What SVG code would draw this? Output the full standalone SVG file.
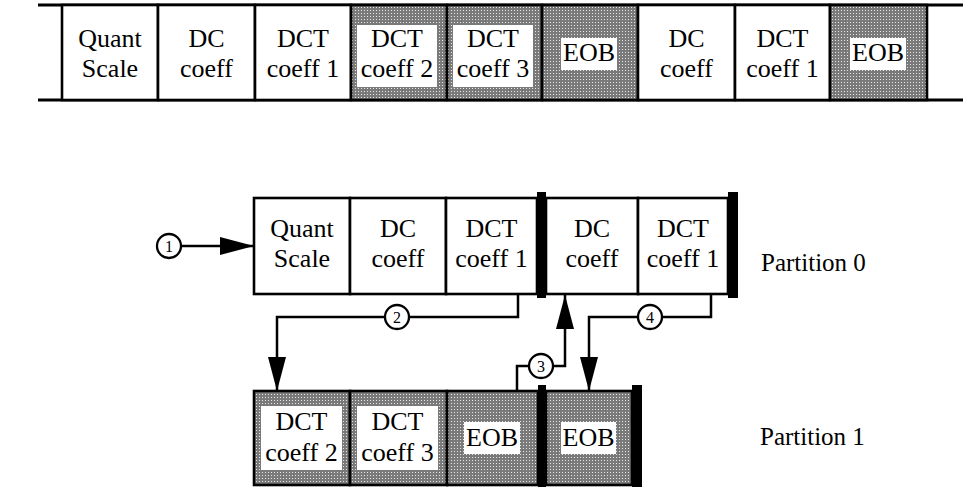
<svg xmlns="http://www.w3.org/2000/svg" width="963" height="488" viewBox="0 0 963 488">
<style>
.cell{fill:#fff;stroke:#000;stroke-width:2.6}
.sh{fill:url(#dots);stroke:#000;stroke-width:2.6}
.t{font-family:"Liberation Serif","Times New Roman",serif;font-size:26px;fill:#000;text-anchor:middle}
.p{font-family:"Liberation Serif","Times New Roman",serif;font-size:25px;fill:#000}
.wb{fill:#fff}
.bar{fill:#000}
.c{fill:none;stroke:#000;stroke-width:2.5}
.lab{fill:#fff;stroke:#000;stroke-width:2.3}
.n{font-family:"Liberation Serif","Times New Roman",serif;font-size:16px;fill:#000;text-anchor:middle}
</style>
<defs>
<pattern id="dots" width="3" height="3" patternUnits="userSpaceOnUse">
<rect width="3" height="3" fill="#7a7a7a"/>
<rect x="1" y="1" width="1" height="1" fill="#e6e6e6"/>
</pattern>
<marker id="ah" markerUnits="userSpaceOnUse" markerWidth="34" markerHeight="18" refX="34" refY="9" orient="auto">
<path d="M0,0 L34,9 L0,18 z" fill="#000"/>
</marker>
</defs>

<g id="stream">
<line x1="38" y1="5" x2="963" y2="5" stroke="#000" stroke-width="3"/>
<line x1="38" y1="100" x2="963" y2="100" stroke="#000" stroke-width="3"/>
</g>
<g id="s-quant"><rect class="cell" x="62" y="5" width="96" height="95"/><text class="t" x="110" y="47">Quant</text><text class="t" x="110" y="77">Scale</text></g>
<g id="s-dc1"><rect class="cell" x="158" y="5" width="97" height="95"/><text class="t" x="206.5" y="47">DC</text><text class="t" x="206.5" y="77">coeff</text></g>
<g id="s-dct1"><rect class="cell" x="255" y="5" width="96" height="95"/><text class="t" x="303" y="47">DCT</text><text class="t" x="303" y="77">coeff 1</text></g>
<g id="s-dct2"><rect class="sh" x="351" y="5" width="96" height="95"/><rect class="wb" x="357" y="25" width="80" height="62"/><text class="t" x="397" y="47">DCT</text><text class="t" x="397" y="77">coeff 2</text></g>
<g id="s-dct3"><rect class="sh" x="447" y="5" width="95" height="95"/><rect class="wb" x="453" y="25" width="80" height="62"/><text class="t" x="493" y="47">DCT</text><text class="t" x="493" y="77">coeff 3</text></g>
<g id="s-eob1"><rect class="sh" x="542" y="5" width="96" height="95"/><rect class="wb" x="561" y="38" width="56" height="32"/><text class="t" x="589" y="61">EOB</text></g>
<g id="s-dc2"><rect class="cell" x="638" y="5" width="97" height="95"/><text class="t" x="686.5" y="47">DC</text><text class="t" x="686.5" y="77">coeff</text></g>
<g id="s-dct1b"><rect class="cell" x="735" y="5" width="95" height="95"/><text class="t" x="782.5" y="47">DCT</text><text class="t" x="782.5" y="77">coeff 1</text></g>
<g id="s-eob2"><rect class="sh" x="830" y="5" width="97" height="95"/><rect class="wb" x="850" y="38" width="56" height="32"/><text class="t" x="878" y="61">EOB</text></g>

<g id="p0-quant"><rect class="cell" x="254" y="198" width="96" height="96"/><text class="t" x="302" y="237">Quant</text><text class="t" x="302" y="267">Scale</text></g>
<g id="p0-dc1"><rect class="cell" x="350" y="198" width="96" height="96"/><text class="t" x="398" y="237">DC</text><text class="t" x="398" y="267">coeff</text></g>
<g id="p0-dct1"><rect class="cell" x="446" y="198" width="91" height="96"/><text class="t" x="491.5" y="237">DCT</text><text class="t" x="491.5" y="267">coeff 1</text></g>
<g id="p0-dc2"><rect class="cell" x="546" y="198" width="92" height="96"/><text class="t" x="592" y="237">DC</text><text class="t" x="592" y="267">coeff</text></g>
<g id="p0-dct1b"><rect class="cell" x="638" y="198" width="90" height="96"/><text class="t" x="683" y="237">DCT</text><text class="t" x="683" y="267">coeff 1</text></g>
<g id="p0-bars"><rect class="bar" x="537" y="192" width="9" height="106"/><rect class="bar" x="728" y="192" width="10" height="106"/></g>
<g id="p0-label"><text class="p" x="761" y="271">Partition 0</text></g>

<g id="p1-dct2"><rect class="sh" x="254" y="391" width="96" height="94"/><rect class="wb" x="261" y="406" width="81" height="64"/><text class="t" x="301.5" y="430">DCT</text><text class="t" x="301.5" y="461">coeff 2</text></g>
<g id="p1-dct3"><rect class="sh" x="350" y="391" width="97" height="94"/><rect class="wb" x="357" y="406" width="81" height="64"/><text class="t" x="397.5" y="430">DCT</text><text class="t" x="397.5" y="461">coeff 3</text></g>
<g id="p1-eob1"><rect class="sh" x="447" y="391" width="91" height="94"/><rect class="wb" x="464" y="422" width="56" height="32"/><text class="t" x="492" y="446">EOB</text></g>
<g id="p1-eob2"><rect class="sh" x="546" y="391" width="86" height="94"/><rect class="wb" x="561" y="422" width="55" height="32"/><text class="t" x="588.5" y="446">EOB</text></g>
<g id="p1-bars"><rect class="bar" x="538" y="385" width="8" height="102"/><rect class="bar" x="632" y="385" width="10" height="102"/></g>
<g id="p1-label"><text class="p" x="760" y="445">Partition 1</text></g>

<g id="connectors">
<line class="c" x1="181" y1="246" x2="254" y2="246" marker-end="url(#ah)"/>
<path class="c" d="M518,295 V317 H277 V391" marker-end="url(#ah)"/>
<path class="c" d="M517,391 V366 H565 V295" marker-end="url(#ah)"/>
<path class="c" d="M711,295 V317 H589 V391" marker-end="url(#ah)"/>
<circle class="lab" cx="169" cy="246" r="12"/><text class="n" x="169" y="251.5">1</text>
<circle class="lab" cx="397" cy="317" r="12"/><text class="n" x="397" y="322.5">2</text>
<circle class="lab" cx="541" cy="366" r="12"/><text class="n" x="541" y="371.5">3</text>
<circle class="lab" cx="650" cy="317" r="12"/><text class="n" x="650" y="322.5">4</text>
</g>
</svg>
